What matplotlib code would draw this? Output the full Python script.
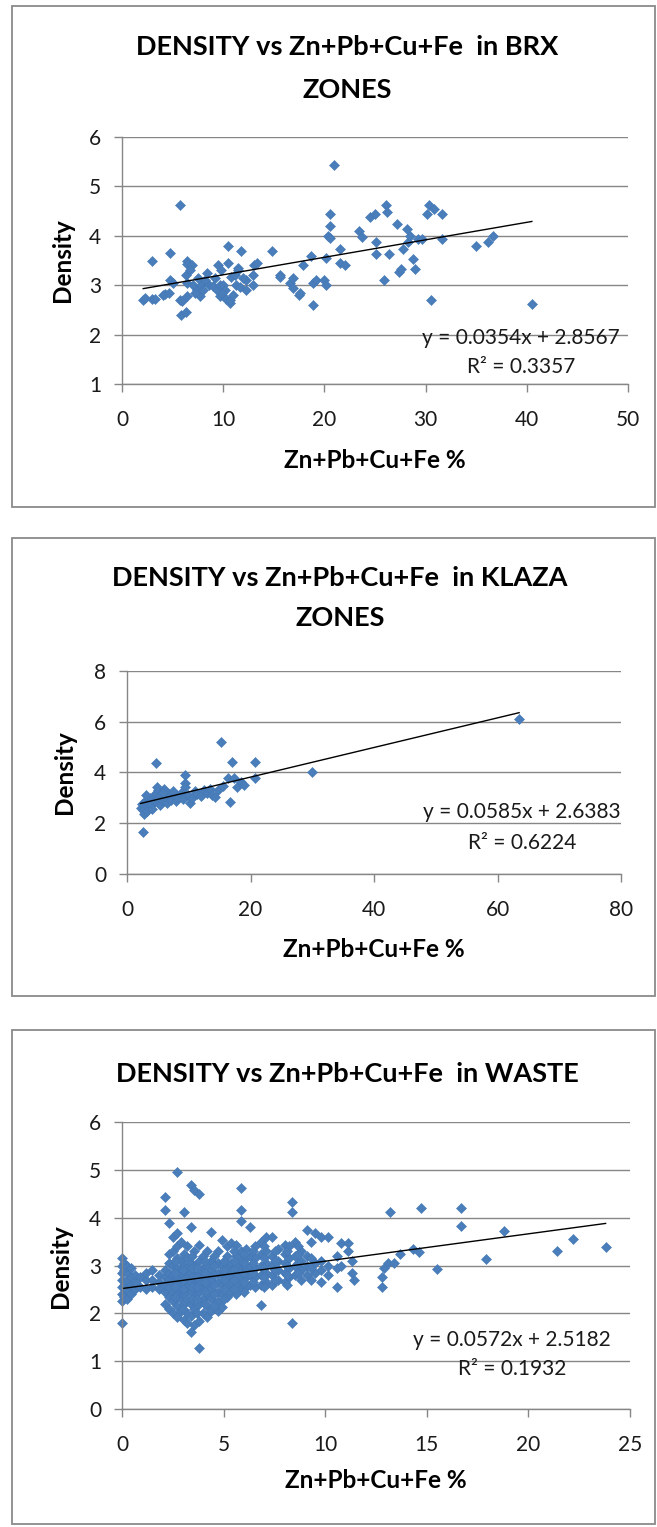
import matplotlib
matplotlib.use("Agg")
import matplotlib.pyplot as plt
from matplotlib.patches import Rectangle
import numpy as np

plt.rcParams["font.family"] = ["Lato", "DejaVu Sans"]

# ---- data ----
brx_x = [2.1, 2.3, 3.0, 3.0, 3.3, 4.1, 4.2, 4.7, 4.7, 5.0,
         5.7, 5.7, 5.8, 6.3, 5.9, 6.3, 6.4, 6.4, 6.4, 6.4,
         6.9, 7.0, 7.4, 7.7, 7.8, 8.4, 8.6, 9.0, 9.4, 9.5,
         9.7, 9.7, 9.8, 10.3, 10.5, 10.7, 10.7, 10.8, 11.0, 11.3,
         11.5, 11.5, 11.7, 11.8, 12.3, 12.3, 12.9, 12.9, 13.0, 13.3,
         14.8, 15.6, 15.6, 16.6, 16.9, 16.9, 17.5, 17.6, 17.9, 18.7,
         18.9, 18.9, 19.2, 20.0, 20.2, 20.2, 20.4, 20.6, 20.6, 20.6,
         20.9, 21.5, 21.5, 22.0, 23.4, 23.7, 24.5, 25.0, 25.1, 25.1,
         25.9, 26.1, 26.2, 26.4, 27.2, 27.4, 27.6, 27.8, 28.2, 28.3,
         28.5, 28.8, 29.0, 29.2, 29.6, 30.1, 30.3, 30.5, 30.8, 31.6,
         31.6, 35.0, 36.2, 36.7, 40.5, 7.2, 8.0, 8.2, 9.2, 10.0,
         10.2, 10.5, 11.2, 12.0, 6.7, 7.5, 9.9, 4.6]
brx_y = [2.70, 2.75, 3.50, 2.73, 2.72, 2.80, 2.83, 3.65, 3.10, 3.05,
         4.62, 2.70, 2.40, 2.45, 2.68, 3.20, 3.50, 3.42, 3.05, 2.78,
         3.40, 3.00, 2.90, 2.78, 3.00, 3.25, 3.00, 2.98, 2.90, 3.40,
         3.00, 2.79, 3.30, 2.72, 3.80, 2.63, 2.70, 3.17, 2.80, 3.00,
         3.35, 3.30, 2.96, 3.70, 3.10, 2.90, 3.20, 3.00, 3.40, 3.45,
         3.70, 3.20, 3.17, 3.04, 3.15, 2.94, 2.80, 2.85, 3.40, 3.60,
         2.60, 3.04, 3.10, 3.10, 3.55, 3.00, 4.00, 4.45, 4.20, 3.95,
         5.43, 3.73, 3.45, 3.40, 4.10, 3.98, 4.38, 4.45, 3.87, 3.63,
         3.10, 4.62, 4.48, 3.63, 4.24, 3.26, 3.33, 3.73, 4.13, 3.87,
         4.00, 3.53, 3.33, 3.94, 3.94, 4.45, 4.62, 2.70, 4.55, 4.45,
         3.94, 3.80, 3.87, 4.00, 2.62, 2.85, 2.90, 3.10, 3.15, 3.00,
         2.90, 3.45, 3.20, 3.15, 3.30, 3.15, 2.85, 2.85]

klaza_x = [2.2, 2.4, 2.6, 2.8, 3.0, 3.2, 3.3, 3.5, 3.7, 3.9,
           4.1, 4.3, 4.5, 4.7, 4.9, 5.1, 5.3, 5.5, 5.7, 6.0,
           6.2, 6.5, 6.8, 7.2, 7.6, 8.0, 8.3, 8.7, 9.0, 9.4,
           9.4, 9.4, 9.8, 10.2, 10.6, 11.0, 11.4, 12.0, 12.5, 13.0,
           13.4, 13.8, 14.3, 14.8, 15.3, 15.6, 16.3, 16.7, 17.0, 17.4,
           17.8, 18.4, 19.0, 20.7, 20.7, 29.9, 63.5, 2.65, 4.7, 4.8,
           7.5, 5.9, 3.0]
klaza_y = [2.60, 2.75, 2.50, 2.35, 2.90, 2.65, 2.45, 2.80, 3.00, 2.70,
           2.55, 3.05, 2.85, 3.20, 2.95, 3.30, 2.70, 3.10, 2.90, 3.35,
           3.00, 2.80, 3.15, 2.90, 3.05, 2.85, 3.00, 3.20, 2.95, 3.88,
           3.56, 3.42, 3.10, 2.77, 3.00, 3.25, 3.15, 3.05, 3.30, 3.20,
           3.35, 3.10, 3.02, 3.30, 5.19, 3.45, 3.76, 2.83, 4.40, 3.76,
           3.40, 3.60, 3.50, 4.42, 3.76, 4.00, 6.12, 1.65, 4.36, 3.42,
           3.25, 3.20, 3.10]

waste_x = [0.0, 0.0, 0.0, 0.0, 0.0, 0.0, 0.0, 0.0,
           0.1, 0.1, 0.1, 0.1,
           0.25, 0.25, 0.25, 0.25, 0.25,
           0.45, 0.45, 0.45, 0.45,
           0.65, 0.65, 0.65,
           0.9, 0.9,
           1.2, 1.2, 1.2,
           1.5, 1.5, 1.5,
           1.8, 1.8, 1.8,
           2.1, 2.1, 2.1, 2.1, 2.1, 2.1, 2.1,
           2.3, 2.3, 2.3, 2.3, 2.3, 2.3, 2.3, 2.3,
           2.5, 2.5, 2.5, 2.5, 2.5, 2.5, 2.5, 2.5,
           2.7, 2.7, 2.7, 2.7, 2.7, 2.7, 2.7, 2.7, 2.7, 2.7,
           2.9, 2.9, 2.9, 2.9, 2.9, 2.9, 2.9,
           3.05, 3.05, 3.05, 3.05, 3.05, 3.05, 3.05, 3.05,
           3.2, 3.2, 3.2, 3.2, 3.2, 3.2, 3.2, 3.2,
           3.38, 3.38, 3.38, 3.38, 3.38, 3.38, 3.38, 3.38, 3.38,
           3.55, 3.55, 3.55, 3.55, 3.55, 3.55, 3.55, 3.55,
           3.8, 3.8, 3.8, 3.8, 3.8, 3.8, 3.8, 3.8, 3.8,
           4.0, 4.0, 4.0, 4.0, 4.0, 4.0,
           4.2, 4.2, 4.2, 4.2, 4.2, 4.2, 4.2,
           4.4, 4.4, 4.4, 4.4, 4.4, 4.4, 4.4,
           4.7, 4.7, 4.7, 4.7, 4.7, 4.7, 4.7,
           4.9, 4.9, 4.9, 4.9, 4.9, 4.9,
           5.15, 5.15, 5.15, 5.15, 5.15, 5.15,
           5.36, 5.36, 5.36, 5.36, 5.36,
           5.6, 5.6, 5.6, 5.6, 5.6, 5.6,
           5.86, 5.86, 5.86, 5.86, 5.86, 5.86, 5.86, 5.86,
           6.1, 6.1, 6.1, 6.1, 6.1,
           6.3, 6.3, 6.3, 6.3, 6.3,
           6.55, 6.55, 6.55, 6.55, 6.55,
           6.85, 6.85, 6.85, 6.85, 6.85, 6.85,
           7.1, 7.1, 7.1, 7.1, 7.1,
           7.4, 7.4, 7.4, 7.4, 7.4,
           7.7, 7.7, 7.7, 7.7,
           8.0, 8.0, 8.0, 8.0, 8.0,
           8.2, 8.2, 8.2, 8.2,
           8.35, 8.35, 8.35,
           8.5, 8.5, 8.5, 8.5,
           8.8, 8.8, 8.8, 8.8,
           9.1, 9.1, 9.1, 9.1,
           9.5, 9.5, 9.5,
           9.8, 9.8, 9.8, 9.8,
           10.15, 10.15, 10.15,
           10.6, 10.6, 10.6,
           10.8, 10.8,
           11.1, 11.1,
           11.3, 11.3,
           11.4,
           12.8, 12.8, 12.9, 13.1, 13.2, 13.4, 13.7, 14.3, 14.6, 14.7,
           15.5, 16.7, 16.7, 17.9, 18.8, 21.4, 22.2, 23.8,
           2.6, 2.6, 2.6, 2.6,
           3.0, 3.0, 3.0, 3.0,
           3.45, 3.45, 3.45, 3.45, 3.45,
           3.7, 3.7, 3.7, 3.7, 3.7,
           4.1, 4.1, 4.1, 4.1, 4.1,
           4.55, 4.55, 4.55, 4.55, 4.55, 4.55,
           5.0, 5.0, 5.0, 5.0, 5.0,
           5.5, 5.5, 5.5, 5.5, 5.5,
           6.0, 6.0, 6.0, 6.0, 6.0,
           6.45, 6.45, 6.45, 6.45,
           7.0, 7.0, 7.0, 7.0, 7.0,
           7.55, 7.55, 7.55, 7.55,
           8.1, 8.1, 8.1, 8.1,
           8.65, 8.65, 8.65, 8.65,
           9.3, 9.3, 9.3, 9.3]
waste_y = [1.80, 2.25, 2.40, 2.55, 2.70, 2.85, 3.00, 3.15,
           2.35, 2.60, 2.90, 3.05,
           2.30, 2.50, 2.70, 2.85, 3.00,
           2.40, 2.60, 2.75, 2.95,
           2.50, 2.65, 2.80,
           2.55, 2.75,
           2.50, 2.70, 2.85,
           2.55, 2.70, 2.90,
           2.50, 2.65, 2.80,
           2.20, 2.45, 2.60, 2.75, 2.90, 4.44, 4.16,
           2.10, 2.35, 2.55, 2.70, 2.85, 3.05, 3.25, 3.88,
           2.00, 2.25, 2.45, 2.65, 2.80, 3.00, 3.30, 3.60,
           1.93, 2.15, 2.40, 2.60, 2.75, 2.95, 3.15, 3.40, 3.67, 4.96,
           2.05, 2.30, 2.50, 2.70, 2.90, 3.10, 3.50,
           1.86, 2.20, 2.40, 2.60, 2.80, 3.00, 3.25, 4.12,
           1.79, 2.00, 2.30, 2.55, 2.75, 2.95, 3.15, 3.40,
           1.62, 1.95, 2.20, 2.45, 2.65, 2.85, 3.05, 3.81, 4.68,
           1.75, 2.10, 2.35, 2.55, 2.75, 3.00, 3.30, 4.58,
           1.27, 1.85, 2.20, 2.45, 2.65, 2.85, 3.10, 3.43, 4.50,
           2.00, 2.30, 2.55, 2.75, 2.95, 3.20,
           1.93, 2.15, 2.40, 2.60, 2.80, 3.00, 3.30,
           2.05, 2.30, 2.50, 2.70, 2.90, 3.10, 3.70,
           2.04, 2.25, 2.45, 2.65, 2.85, 3.05, 3.30,
           2.14, 2.40, 2.60, 2.80, 3.00, 3.53,
           2.35, 2.55, 2.75, 2.95, 3.20, 3.40,
           2.45, 2.65, 2.85, 3.05, 3.46,
           2.40, 2.60, 2.80, 3.00, 3.20, 3.43,
           2.50, 2.70, 2.90, 3.10, 3.30, 3.92, 4.16, 4.61,
           2.55, 2.75, 2.95, 3.15, 3.35,
           2.60, 2.80, 3.00, 3.20, 3.81,
           2.55, 2.75, 2.95, 3.15, 3.40,
           2.18, 2.60, 2.80, 3.00, 3.25, 3.50,
           2.65, 2.85, 3.05, 3.30, 3.60,
           2.60, 2.80, 3.00, 3.20, 3.60,
           2.70, 2.90, 3.10, 3.35,
           2.65, 2.85, 3.05, 3.25, 3.43,
           2.75, 2.95, 3.15, 3.40,
           1.79, 4.12, 4.33,
           2.80, 3.00, 3.20, 3.50,
           2.70, 2.90, 3.10, 3.30,
           2.80, 3.00, 3.20, 3.74,
           2.85, 3.05, 3.67,
           2.66, 2.90, 3.10, 3.60,
           2.80, 3.00, 3.60,
           2.56, 2.95, 3.20,
           3.00, 3.46,
           3.30, 3.46,
           2.84, 3.10,
           2.70,
           2.56, 2.77, 2.95, 3.05, 4.12, 3.05, 3.24, 3.34, 3.28, 4.20,
           2.93, 4.20, 3.83, 3.14, 3.72, 3.31, 3.55, 3.38,
           2.35, 2.55, 2.85, 3.10,
           2.10, 2.50, 2.70, 2.90,
           2.30, 2.55, 2.75, 2.95, 3.20,
           2.00, 2.30, 2.55, 2.75, 2.95,
           2.20, 2.45, 2.65, 2.85, 3.10,
           2.15, 2.40, 2.60, 2.80, 3.00, 3.20,
           2.30, 2.50, 2.70, 2.90, 3.10,
           2.50, 2.70, 2.90, 3.10, 3.30,
           2.45, 2.65, 2.85, 3.05, 3.25,
           2.65, 2.85, 3.05, 3.30,
           2.55, 2.75, 2.95, 3.15, 3.40,
           2.70, 2.90, 3.10, 3.30,
           2.60, 2.80, 3.00, 3.30,
           2.85, 3.05, 3.25, 3.40,
           2.70, 2.95, 3.15, 3.50]

W, H = 657, 1527
fig = plt.figure(figsize=(W / 100, H / 100), dpi=100)
fig.patch.set_facecolor("white")

GRAY = "#868686"
BLUE = "#4A7EBB"
TXT = "#1a1a1a"


def fx(px):
    return px / W


def fy(py):
    return 1 - py / H


def panel(box, rect, xs, ys, xlim, xstep, ylim, ystep, slope, icpt, r2,
          titles, title_x, dens_xy, xlab_xy, eq_x, eq_y):
    # outer chart border
    bl, bt, br, bb = box
    fig.add_artist(Rectangle((fx(bl), fy(bb)), (br - bl) / W, (bb - bt) / H,
                             transform=fig.transFigure, fill=False,
                             edgecolor="#8a8a8a", lw=1.3))
    l, t, r, b = rect
    ax = fig.add_axes([fx(l), fy(b), (r - l) / W, (b - t) / H])
    ax.set_xlim(*xlim)
    ax.set_ylim(*ylim)
    ax.set_xticks(np.arange(xlim[0], xlim[1] + 0.1, xstep))
    ax.set_yticks(np.arange(ylim[0], ylim[1] + 0.1, ystep))
    ax.yaxis.grid(True, color=GRAY, lw=1)
    ax.set_axisbelow(True)
    for s in ("top", "right"):
        ax.spines[s].set_visible(False)
    for s in ("left", "bottom"):
        ax.spines[s].set_color(GRAY)
        ax.spines[s].set_linewidth(1)
    ax.tick_params(axis="y", length=6, width=1, color=GRAY, pad=9,
                   labelsize=15, labelcolor=TXT)
    ax.tick_params(axis="x", length=6, width=1, color=GRAY, pad=13,
                   labelsize=15, labelcolor=TXT)

    ax.plot(xs, ys, "D", ms=5.0, color=BLUE, mec="#4377B5", mew=0.4,
            linestyle="none", clip_on=False)
    lx = np.array([min(xs), max(xs)])
    ax.plot(lx, slope * lx + icpt, color="black", lw=1)

    for txt, ty in titles:
        fig.text(fx(title_x), fy(ty), txt, ha="center", va="center",
                 fontsize=19.5, fontweight="bold", color="black")
    fig.text(fx(dens_xy[0]), fy(dens_xy[1]), "Density", rotation=90,
             ha="center", va="center", fontsize=17.5, fontweight="bold")
    fig.text(fx(xlab_xy[0]), fy(xlab_xy[1]), "Zn+Pb+Cu+Fe %",
             ha="center", va="center", fontsize=17.5, fontweight="bold")
    fig.text(fx(eq_x), fy(eq_y[0]), "y = %.4fx + %.4f" % (slope, icpt),
             ha="center", va="center", fontsize=15, color=TXT)
    fig.text(fx(eq_x), fy(eq_y[1]), "R\u00b2 = %.4f" % r2,
             ha="center", va="center", fontsize=15, color=TXT)
    return ax


panel((12, 6, 655, 507), (122, 137, 628, 384), brx_x, brx_y,
      (0, 50), 10, (1, 6), 1, 0.0354, 2.8567, 0.3357,
      [("DENSITY vs Zn+Pb+Cu+Fe  in BRX", 47), ("ZONES", 90)], 347,
      (62, 260), (375, 460), 521, (338, 367))

panel((12, 538, 655, 996), (127, 671, 621, 873.5), klaza_x, klaza_y,
      (0, 80), 20, (0, 8), 2, 0.0585, 2.6383, 0.6224,
      [("DENSITY vs Zn+Pb+Cu+Fe  in KLAZA", 578), ("ZONES", 618)], 340,
      (64, 772), (374, 950), 522, (812, 843))

panel((12, 1030, 655, 1524), (122, 1122, 630, 1409), waste_x, waste_y,
      (0, 25), 5, (0, 6), 1, 0.0572, 2.5182, 0.1932,
      [("DENSITY vs Zn+Pb+Cu+Fe  in WASTE", 1074)], 347,
      (60, 1266), (376, 1480), 512, (1340, 1369))

fig.savefig("out.png", dpi=100)
